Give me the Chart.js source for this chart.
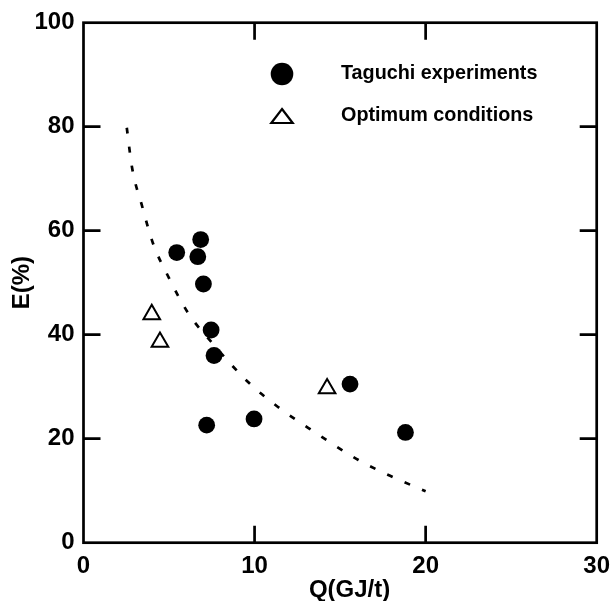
<!DOCTYPE html>
<html>
<head>
<meta charset="utf-8">
<title>E vs Q</title>
<script src="https://cdn.jsdelivr.net/npm/chart.js@4/dist/chart.umd.min.js"></script>
<style>
  html, body { margin: 0; padding: 0; background: #fff; }
  #chart { display: block; }
</style>
</head>
<body>
<canvas id="chart" width="611" height="601"></canvas>
<script>
// Taguchi runs
const tagQ = [5.45, 6.68, 6.85, 7.01, 7.46, 7.63, 7.20, 9.97, 15.58, 18.82];
const tagE = [55.8, 55.0, 58.3, 49.75, 40.9, 36.0, 22.6, 23.8, 30.5, 21.2];
// optimum condition runs
const optQ = [3.99, 4.47, 14.24];
const optE = [43.9, 38.6, 29.65];
// dashed trend curve
const fitQ = [2.53, 2.84, 3.42, 4.06, 5.0, 6.11, 7.53, 9.62, 11.37, 13.13, 16.07, 18.1, 20.0];
const fitE = [79.8, 72.1, 64.8, 57.6, 50.9, 44.2, 38.4, 30.9, 26.1, 22.1, 15.9, 12.6, 9.9];

const xTicks = [0, 10, 20, 30];
const yTicks = [0, 20, 40, 60, 80, 100];

const legendItems = ['Taguchi experiments', 'Optimum conditions'];
const xTitle = 'Q(GJ/t)';

const FONT = '"Liberation Sans", Arial, Helvetica, sans-serif';

function pts(xs, ys) {
    return xs.map((x, i) => ({x: x, y: ys[i]}));
}

// box round the plot with short ticks pointing inwards on all four sides
const framePlugin = {
    id: 'frame',
    afterDraw(chart) {
        const ctx = chart.ctx;
        const a = chart.chartArea;
        const xs = chart.scales.x, ys = chart.scales.y;
        const len = 17;
        ctx.save();
        ctx.strokeStyle = '#000';
        ctx.lineWidth = 2.7;
        ctx.lineCap = 'square';
        ctx.strokeRect(a.left, a.top, a.right - a.left, a.bottom - a.top);
        ctx.lineCap = 'butt';
        ctx.beginPath();
        xTicks.slice(1, -1).forEach(v => {
            const px = xs.getPixelForValue(v);
            ctx.moveTo(px, a.bottom); ctx.lineTo(px, a.bottom - len);
            ctx.moveTo(px, a.top); ctx.lineTo(px, a.top + len);
        });
        yTicks.slice(1, -1).forEach(v => {
            const py = ys.getPixelForValue(v);
            ctx.moveTo(a.left, py); ctx.lineTo(a.left + len, py);
            ctx.moveTo(a.right, py); ctx.lineTo(a.right - len, py);
        });
        ctx.stroke();

        // x axis title, sits a little right of centre
        ctx.fillStyle = '#000';
        ctx.font = 'bold 24px ' + FONT;
        ctx.textAlign = 'center';
        ctx.textBaseline = 'middle';
        ctx.fillText(xTitle, (a.left + a.right) / 2 + 9.5, 590);
        ctx.restore();
    }
};

// legend sits inside the plot, top right
const legendPlugin = {
    id: 'innerLegend',
    afterDraw(chart) {
        const ctx = chart.ctx;
        const mx = 282, tx = 341;
        const y1 = 74, y2 = 116;
        ctx.save();
        ctx.fillStyle = '#000';
        ctx.beginPath();
        ctx.arc(mx, y1, 11.3, 0, Math.PI * 2);
        ctx.fill();

        ctx.strokeStyle = '#000';
        ctx.lineWidth = 2.2;
        ctx.lineJoin = 'miter';
        ctx.beginPath();
        ctx.moveTo(mx, y2 - 7);
        ctx.lineTo(mx + 10.7, y2 + 7);
        ctx.lineTo(mx - 10.7, y2 + 7);
        ctx.closePath();
        ctx.fillStyle = '#fff';
        ctx.fill();
        ctx.stroke();

        ctx.fillStyle = '#000';
        ctx.font = 'bold 19.8px ' + FONT;
        ctx.textAlign = 'left';
        ctx.textBaseline = 'middle';
        ctx.fillText(legendItems[0], tx, y1);
        ctx.fillText(legendItems[1], tx, y2);
        ctx.restore();
    }
};

new Chart(document.getElementById('chart'), {
    type: 'scatter',
    data: {
        datasets: [
            {
                label: legendItems[0],
                data: pts(tagQ, tagE),
                pointStyle: 'circle',
                pointRadius: 8.4,
                pointBackgroundColor: '#000',
                pointBorderColor: '#000',
                pointBorderWidth: 0
            },
            {
                label: legendItems[1],
                data: pts(optQ, optE),
                pointStyle: 'triangle',
                pointRadius: 9.6,
                pointBackgroundColor: '#fff',
                pointBorderColor: '#000',
                pointBorderWidth: 2
            },
            {
                label: 'fit',
                data: pts(fitQ, fitE),
                showLine: true,
                pointRadius: 0,
                borderColor: '#000',
                borderWidth: 2.7,
                borderDash: [6, 13],
                cubicInterpolationMode: 'monotone',
                fill: false
            }
        ]
    },
    options: {
        responsive: false,
        animation: false,
        devicePixelRatio: 1,
        layout: {padding: {top: 22.7, right: 14.3, left: 0, bottom: 0}},
        plugins: {
            legend: {display: false},
            tooltip: {enabled: false}
        },
        scales: {
            x: {
                type: 'linear',
                min: 0,
                max: 30,
                afterBuildTicks: s => { s.ticks = xTicks.map(v => ({value: v})); },
                afterFit: s => {
                    s.height = 58.3;
                    s.paddingLeft = 0;
                    s.paddingRight = 0;
                },
                grid: {display: false, drawTicks: false},
                border: {display: false},
                ticks: {
                    padding: 9.5,
                    color: '#000',
                    maxRotation: 0,
                    font: {family: FONT, size: 24, weight: 'bold'}
                }
            },
            y: {
                type: 'linear',
                min: 0,
                max: 100,
                afterBuildTicks: s => { s.ticks = yTicks.map(v => ({value: v})); },
                afterFit: s => {
                    s.width = 83.5;
                    s.paddingTop = 0;
                    s.paddingBottom = 0;
                },
                grid: {display: false, drawTicks: false},
                border: {display: false},
                ticks: {
                    padding: 9,
                    color: '#000',
                    font: {family: FONT, size: 24, weight: 'bold'}
                },
                title: {
                    display: true,
                    text: 'E(%)',
                    color: '#000',
                    padding: {top: 10, bottom: 0},
                    font: {family: FONT, size: 24, weight: 'bold', lineHeight: 1}
                }
            }
        }
    },
    plugins: [framePlugin, legendPlugin]
});
</script>
</body>
</html>
